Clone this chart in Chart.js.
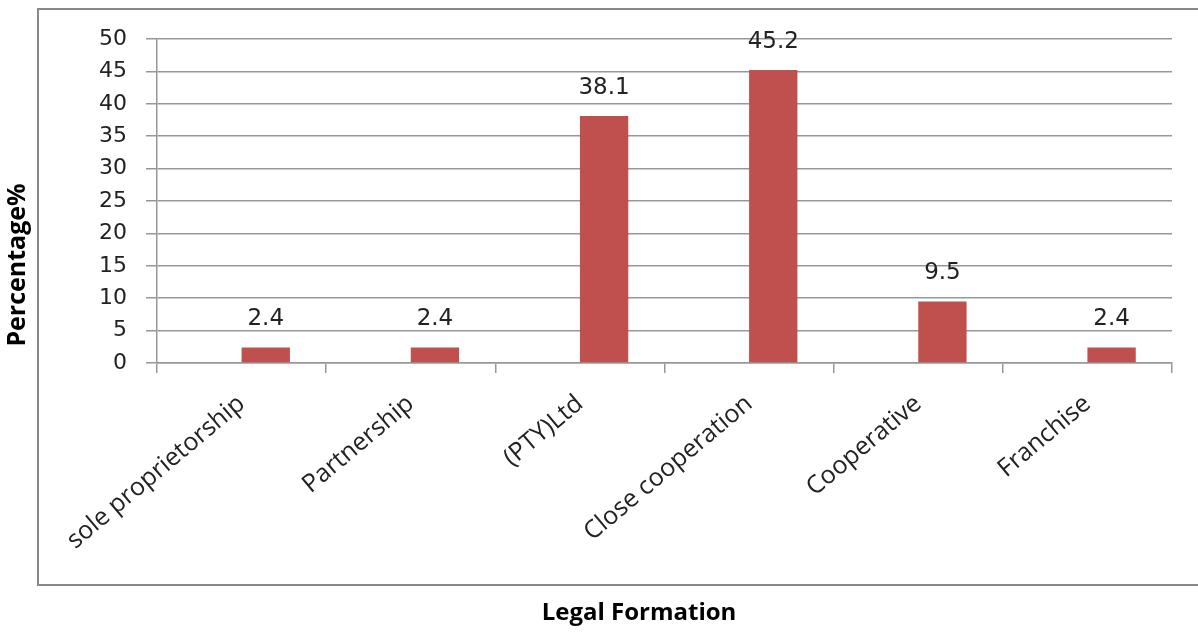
<!DOCTYPE html>
<html>
<head>
<meta charset="utf-8">
<title>Legal Formation</title>
<script src="https://cdn.jsdelivr.net/npm/chart.js"></script>
<style>
  html, body { margin: 0; padding: 0; background: #fff; }
  canvas { display: block; }
</style>
</head>
<body>
<canvas id="chart" width="1198" height="632"></canvas>
<script>
// chart data
const categories = ['sole proprietorship', 'Partnership', '(PTY)Ltd', 'Close cooperation', 'Cooperative', 'Franchise'];
const percentages = [2.4, 2.4, 38.1, 45.2, 9.5, 2.4];
// empty first series, it only keeps the left slot of each category
const emptySeries = [null, null, null, null, null, null];
const yMin = 0;
const yMax = 50;
const yStep = 5;

const xTitle = 'Legal Formation';
const yTitle = 'Percentage%';

const gridColor = '#979797';
const textColor = '#222';
const barColor = '#C0504D';

// grey frame and the two axis titles
const framePlugin = {
  id: 'frame',
  beforeDraw(chart) {
    const ctx = chart.ctx;
    ctx.save();
    ctx.strokeStyle = '#888';
    ctx.lineWidth = 2;
    ctx.strokeRect(38, 9, 1175, 576);
    ctx.restore();
  },
  afterDraw(chart) {
    const ctx = chart.ctx;
    ctx.save();
    ctx.fillStyle = '#000';
    ctx.textAlign = 'center';
    ctx.textBaseline = 'middle';
    ctx.font = 'bold 24px "Open Sans"';
    ctx.fillText(xTitle, 639, 613);
    ctx.font = 'bold 25px "Open Sans"';
    ctx.translate(18, 265);
    ctx.rotate(-Math.PI / 2);
    ctx.fillText(yTitle, 0, 0);
    ctx.restore();
  }
};

// value printed above each bar
const valueLabels = {
  id: 'valueLabels',
  afterDatasetsDraw(chart) {
    const ctx = chart.ctx;
    const meta = chart.getDatasetMeta(1);
    ctx.save();
    ctx.fillStyle = textColor;
    ctx.font = '23px "DejaVu Sans"';
    ctx.textAlign = 'center';
    ctx.textBaseline = 'middle';
    meta.data.forEach((bar, i) => {
      ctx.fillText(String(percentages[i]), bar.x, bar.y - 28);
    });
    ctx.restore();
  }
};

new Chart(document.getElementById('chart'), {
  type: 'bar',
  data: {
    labels: categories,
    datasets: [
      { label: '', data: emptySeries, backgroundColor: barColor },
      { label: 'Percentage', data: percentages, backgroundColor: barColor, borderWidth: 0 }
    ]
  },
  options: {
    responsive: false,
    animation: false,
    devicePixelRatio: 1,
    layout: { padding: { top: 39, right: 26, left: 0, bottom: 0 } },
    datasets: { bar: { categoryPercentage: 2 / 3.5, barPercentage: 1 } },
    plugins: {
      legend: { display: false },
      tooltip: { enabled: false }
    },
    scales: {
      x: {
        grid: {
          display: true,
          offset: true,
          drawOnChartArea: false,
          drawTicks: true,
          tickLength: 10,
          color: gridColor,
          lineWidth: 1.5
        },
        border: { display: true, color: gridColor, width: 1.5 },
        ticks: {
          autoSkip: false,
          minRotation: 40,
          maxRotation: 40,
          padding: 16,
          color: textColor,
          font: { family: 'Open Sans', size: 25 }
        },
        afterFit(scale) { scale.height = 269; }
      },
      y: {
        min: yMin,
        max: yMax,
        grid: { color: gridColor, lineWidth: 1.5, tickLength: 11 },
        border: { display: true, color: gridColor, width: 1.5 },
        ticks: {
          stepSize: yStep,
          padding: 19,
          color: textColor,
          font: { family: 'DejaVu Sans', size: 22 }
        },
        afterFit(scale) { scale.width = 157; }
      }
    }
  },
  plugins: [framePlugin, valueLabels]
});
</script>
</body>
</html>
